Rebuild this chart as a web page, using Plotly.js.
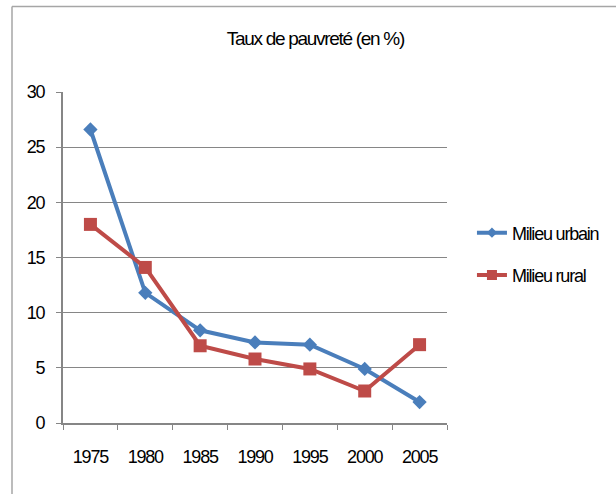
<!DOCTYPE html>
<html>
<head>
<meta charset="utf-8">
<script src="https://cdn.plot.ly/plotly-3.0.1.min.js"></script>
<style>
html,body{margin:0;padding:0;background:#fff;}
#chart{width:616px;height:494px;}
#chart svg text{letter-spacing:-1.2px;}
#chart svg text.gtitle{letter-spacing:-1.3px;}
</style>
</head>
<body>
<div id="chart"></div>
<script>
const years = ["1975", "1980", "1985", "1990", "1995", "2000", "2005"];
const urbain = [26.6, 11.8, 8.4, 7.3, 7.1, 4.9, 1.9];
const rural = [18.0, 14.1, 7.0, 5.8, 4.9, 2.9, 7.1];
const seriesNames = ["Milieu urbain", "Milieu rural"];
const seriesColors = ["#4A7EBB", "#BE4B48"];

const FONT = "'Liberation Sans Narrow', 'Arial Narrow', 'Liberation Sans', sans-serif";

const traces = [
  {
    x: years, y: urbain, name: seriesNames[0], type: "scatter", mode: "lines+markers",
    showlegend: false,
    line: {color: seriesColors[0], width: 4},
    marker: {symbol: "diamond", size: 11, color: seriesColors[0]}
  },
  {
    x: years, y: rural, name: seriesNames[1], type: "scatter", mode: "lines+markers",
    showlegend: false,
    line: {color: seriesColors[1], width: 4},
    marker: {symbol: "square", size: 13, color: seriesColors[1]}
  },
  // legend entries (smaller markers, as in the reference legend)
  {
    x: [null], y: [null], name: seriesNames[0], type: "scatter", mode: "lines+markers",
    legendgroup: "u",
    line: {color: seriesColors[0], width: 4},
    marker: {symbol: "diamond", size: 8, color: seriesColors[0]}
  },
  {
    x: [null], y: [null], name: seriesNames[1], type: "scatter", mode: "lines+markers",
    legendgroup: "r",
    line: {color: seriesColors[1], width: 4},
    marker: {symbol: "square", size: 10, color: seriesColors[1]}
  }
];

const layout = {
  width: 616, height: 494,
  margin: {l: 63, r: 169, t: 92, b: 71, autoexpand: false},
  paper_bgcolor: "#fff", plot_bgcolor: "#fff",
  font: {family: FONT, size: 18, color: "#000"},
  title: {text: "Taux de pauvreté (en %)", x: 0.512, xanchor: "center", y: 0.922, yanchor: "middle",
          font: {family: FONT, size: 19, color: "#000"}},
  xaxis: {
    type: "category", range: [-0.5, 6.5],
    showline: true, linecolor: "#868686", linewidth: 2,
    ticks: "outside", tickson: "boundaries", ticklen: 5, tickcolor: "#868686", tickwidth: 1,
    showgrid: false, zeroline: false,
    tickfont: {family: FONT, size: 18, color: "#000"},
    ticklabelstandoff: 16
  },
  yaxis: {
    range: [0, 30], dtick: 5, tick0: 0,
    showline: true, linecolor: "#868686", linewidth: 2,
    ticks: "outside", ticklen: 5, tickcolor: "#868686", tickwidth: 1,
    showgrid: true, gridcolor: "#868686", gridwidth: 1,
    zeroline: false,
    tickfont: {family: FONT, size: 18, color: "#000"},
    ticklabelstandoff: 8
  },
  legend: {
    x: 1.065, y: 0.63, xanchor: "left", yanchor: "top",
    font: {family: FONT, size: 18, color: "#000"},
    tracegroupgap: 16,
    bgcolor: "rgba(0,0,0,0)"
  },
  showlegend: true,
  shapes: [
    {type: "line", xref: "paper", yref: "paper",
     x0: (12 - 63) / 384, x1: 1.5, y0: 1 + (92 - 6.5) / 331, y1: 1 + (92 - 6.5) / 331,
     line: {color: "#A6A6A6", width: 1.5}},
    {type: "line", xref: "paper", yref: "paper",
     x0: (12 - 63) / 384, x1: (12 - 63) / 384, y0: 1 + (92 - 6.5) / 331, y1: -0.3,
     line: {color: "#A6A6A6", width: 1.5}}
  ]
};

Plotly.newPlot("chart", traces, layout, {displayModeBar: false, staticPlot: true});
</script>
</body>
</html>
